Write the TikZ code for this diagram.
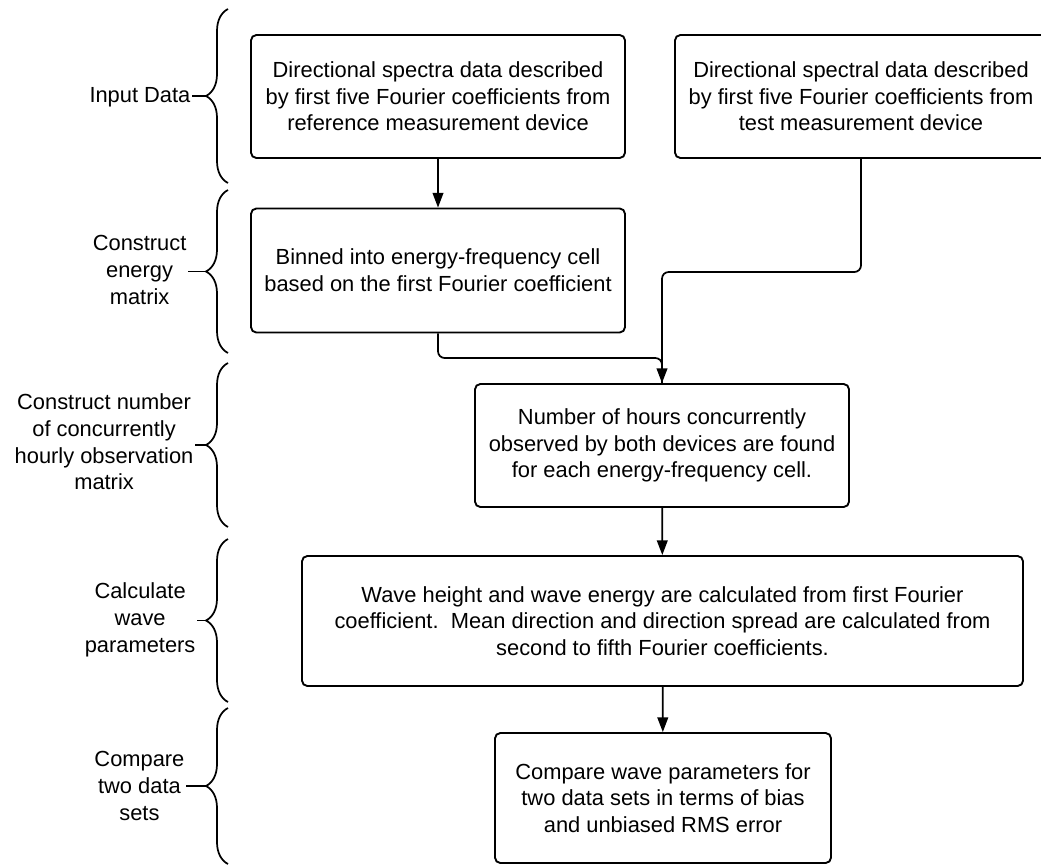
\documentclass[tikz,border=0pt]{standalone}
\usepackage{fontspec}
\setmainfont{Liberation Sans}
\usetikzlibrary{arrows.meta,positioning,decorations.pathreplacing}

\begin{document}
\begin{tikzpicture}[
  x=0.75pt, y=-0.75pt,
  flowbox/.style={rectangle, draw, line width=1.4pt, rounded corners=4pt, align=center, font=\fontsize{16.4}{20}\selectfont, inner sep=0pt},
  stage/.style={align=center, font=\fontsize{16.4}{20}\selectfont, inner sep=1pt, anchor=east},
  lbrace/.style={decorate, decoration={brace, amplitude=16.5pt}, line width=1.3pt},
  arr/.style={-{Triangle[length=11pt, width=8pt]}, line width=1.3pt, rounded corners=5pt},
  link/.style={line width=1.3pt, rounded corners=5pt}
]
  \useasboundingbox (0,0) rectangle (1041,867);

  % process boxes
  \node[flowbox, minimum width=374*0.75pt, minimum height=123*0.75pt] (b1) at (438,96.5) {Directional spectra data described\\by first five Fourier coefficients from\\reference measurement device};
  \node[flowbox, minimum width=372*0.75pt, minimum height=123*0.75pt] (b2) at (861,96.5) {Directional spectral data described\\by first five Fourier coefficients from\\test measurement device};
  \node[flowbox, minimum width=374*0.75pt, minimum height=124*0.75pt] (b3) at (438,270.5) {Binned into energy-frequency cell\\based on the first Fourier coefficient};
  \node[flowbox, minimum width=374*0.75pt, minimum height=123*0.75pt] (b4) at (662,445.5) {Number of hours concurrently\\observed by both devices are found\\for each energy-frequency cell.};
  \node[flowbox, minimum width=721*0.75pt, minimum height=130*0.75pt] (b5) at (662.5,621) {Wave height and wave energy are calculated from first Fourier\\coefficient.\ \ Mean direction and direction spread are calculated from\\second to fifth Fourier coefficients.};
  \node[flowbox, minimum width=336*0.75pt, minimum height=130*0.75pt] (b6) at (663,798) {Compare wave parameters for\\two data sets in terms of bias\\and unbiased RMS error};

  % stage braces
  \draw[lbrace] (228,183) -- (228,9);
  \draw[lbrace] (228,353) -- (228,190);
  \draw[lbrace] (228,527) -- (228,363);
  \draw[lbrace] (228,702) -- (228,539);
  \draw[lbrace] (228,864) -- (228,708);
  \coordinate (t1) at (206,96);
  \coordinate (t2) at (206,271.5);
  \coordinate (t3) at (206,445);
  \coordinate (t4) at (206,620.5);
  \coordinate (t5) at (206,786);

  \node[stage] (s1) at (192,97) {Input Data};
  \node[stage] (s2) at (188,270) {Construct\\energy\\matrix};
  \node[stage] (s3) at (195,442) {Construct number\\of concurrently\\hourly observation\\matrix};
  \node[stage] (s4) at (197,620) {Calculate\\wave\\parameters};
  \node[stage] (s5) at (186,786) {Compare\\two data\\sets};
  \foreach \i in {1,...,5}
    \draw[line width=1.2pt] (s\i.east |- t\i) -- (t\i);

  % connectors
  \coordinate (j2) at (861,272);
  \coordinate (j3) at (438,358);
  \draw[arr] (b1) -- (b3);
  \draw[arr] (b2.south) -- (j2) -| (b4.north);
  \draw[link] (b3.south) -- (j3) -| (b4.north);
  \draw[arr] (b4) -- (b5);
  \draw[arr] (b5) -- (b6);
\end{tikzpicture}
\end{document}
